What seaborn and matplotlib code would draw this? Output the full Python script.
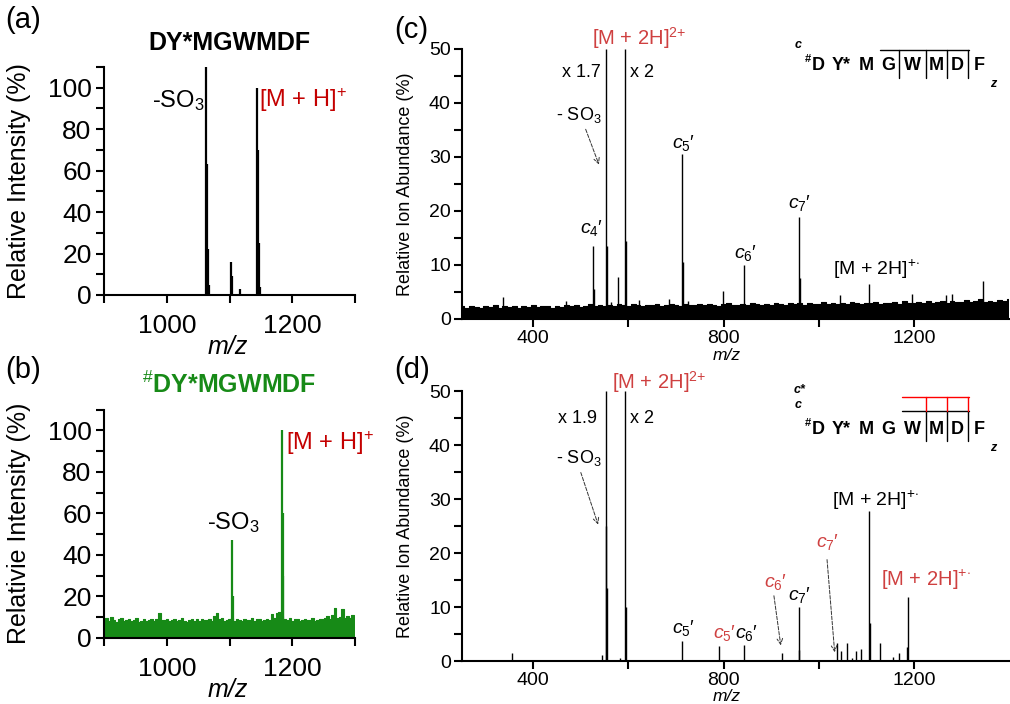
import numpy as np
import pandas as pd
import matplotlib.pyplot as plt
import seaborn as sns
from matplotlib.ticker import FixedLocator, MultipleLocator

# ---------------- data ----------------
# (a) DY*MGWMDF
a_mz = [1062.5, 1064, 1065, 1066.5, 1103, 1104.5, 1116, 1144, 1145.5, 1146.5, 1148]
a_int = [110, 63, 22, 5, 16, 9, 3, 100, 70, 25, 4]

# (b) #DY*MGWMDF
b_mz = [1104, 1105, 1184, 1185, 1186]
b_int = [47, 20, 100, 60, 30]
b_noise_mz = np.arange(900, 1301, 4)
b_noise = [8.4, 9.6, 8.1, 10.2, 8.8, 7.6, 8.9, 9.4, 7.9, 8.6,
           9.1, 8.0, 8.7, 9.5, 7.8, 8.3, 9.0, 8.2, 8.8, 9.3,
           8.1, 9.0, 12.1, 8.6, 8.4, 9.2, 7.9, 8.5, 9.1, 8.0,
           8.7, 9.4, 8.1, 7.7, 8.8, 9.2, 8.3, 8.9, 8.0, 9.1,
           8.4, 8.6, 9.3, 8.0, 10.4, 11.8, 8.9, 9.5, 8.2, 8.7,
           9.0, 9.6, 8.3, 9.1, 8.6, 8.0, 9.2, 8.5, 8.8, 9.4,
           8.1, 8.9, 9.3, 8.2, 8.7, 9.0, 8.4, 11.6, 9.8, 11.9,
           12.5, 10.3, 9.1, 8.6, 9.4, 8.2, 8.9, 9.3, 8.0, 8.7,
           9.2, 8.4, 8.8, 9.5, 8.1, 8.6, 9.3, 9.0, 9.7, 10.4,
           9.2, 10.8, 14.3, 9.6, 10.1, 13.9, 9.4, 10.6, 9.8, 11.0,
           10.5]

# (c) ECD of #DY*MGWMDF
c_mz = [336, 469, 525, 527, 553, 554, 563, 578, 593, 594, 622, 685, 712, 714,
        725, 799, 842, 958, 960, 1045, 1105, 1196, 1267, 1281, 1345]
c_int = [4.1, 3.3, 13.5, 5.5, 50, 13.5, 3.2, 7.8, 50, 14.5, 3.5, 3.7, 30.5, 10.5,
         3.3, 5.2, 9.9, 18.9, 7.5, 4.4, 6.4, 4.6, 4.4, 4.6, 7.1]
c_noise_mz = np.arange(250, 1401, 10)
c_noise = [2.3, 2.1, 2.4, 2.2, 2.0, 2.3, 2.2, 2.5, 2.1, 2.3,
           2.2, 2.4, 2.1, 2.3, 2.2, 2.5, 2.2, 2.4, 2.3, 2.1,
           2.4, 2.2, 2.6, 2.3, 2.5, 2.2, 2.4, 2.7, 2.3, 2.5,
           2.4, 2.6, 2.3, 2.8, 2.5, 2.4, 2.7, 2.5, 2.3, 2.6,
           2.5, 2.7, 2.4, 2.6, 2.8, 2.5, 2.4, 2.7, 2.6, 2.5,
           2.7, 2.5, 2.8, 2.6, 2.4, 2.7, 2.9, 2.6, 2.5, 2.8,
           2.6, 2.9, 2.7, 2.5, 2.8, 2.6, 3.0, 2.7, 2.6, 2.9,
           2.7, 2.9, 2.6, 3.0, 2.8, 2.7, 3.1, 2.8, 2.9, 2.7,
           3.0, 2.8, 3.2, 2.9, 2.7, 3.0, 2.9, 3.2, 2.8, 3.0,
           2.9, 3.1, 2.8, 3.3, 3.0, 2.9, 3.2, 3.0, 3.4, 2.9,
           3.1, 3.3, 3.0, 3.4, 3.1, 3.2, 3.5, 3.1, 3.3, 3.6,
           3.2, 3.4, 3.1, 3.5, 3.3, 3.6]

# (d) ECD with red-labelled ions
d_mz = [356, 544, 552, 553, 554, 582, 593, 594, 712, 791, 842, 922, 958, 959,
        1038, 1046, 1060, 1071, 1078, 1088, 1106, 1107, 1129, 1157, 1168, 1185, 1187]
d_int = [1.4, 1.1, 50, 25, 13.5, 0.5, 50, 10, 3.8, 2.8, 3.0, 1.5, 10.1, 2.0,
         3.4, 1.9, 3.3, 0.5, 1.9, 2.3, 27.7, 7.0, 3.3, 0.7, 1.5, 2.6, 11.8]

GREEN = '#178a17'
DARKRED = '#c40000'
SOFTRED = '#cf4040'

sns.set_style("ticks")
plt.rcParams['font.family'] = ['Liberation Sans', 'DejaVu Sans']
plt.rcParams['mathtext.fontset'] = 'custom'
plt.rcParams['mathtext.rm'] = 'Liberation Sans'
plt.rcParams['mathtext.it'] = 'Liberation Sans:italic'
plt.rcParams['mathtext.bf'] = 'Liberation Sans:bold'
plt.rcParams['axes.linewidth'] = 1.5
for key in ['text.color', 'axes.labelcolor', 'xtick.color', 'ytick.color', 'axes.edgecolor']:
    plt.rcParams[key] = 'black'

fig = plt.figure(figsize=(10.1, 7.04), dpi=100)
ax_a = fig.add_axes([0.103, 0.581, 0.2485, 0.324])
ax_b = fig.add_axes([0.103, 0.094, 0.2485, 0.324])
ax_c = fig.add_axes([0.4574, 0.547, 0.5416, 0.3835])
ax_d = fig.add_axes([0.4574, 0.061, 0.5416, 0.3835])

PLUS = '$^{+}$'
TWOPLUS = '$^{2{+}}$'
RADPLUS = '$^{+{\\cdot}}$'


def cion(n):
    return '$\\mathit{c}_{%d}$\u2032' % n


def style_left(ax, ylabel):
    ax.set_xlim(900, 1300)
    ax.set_ylim(0, 110)
    ax.xaxis.set_major_locator(FixedLocator([1000, 1200]))
    ax.xaxis.set_minor_locator(FixedLocator([900, 1100, 1300]))
    ax.yaxis.set_major_locator(FixedLocator([0, 20, 40, 60, 80, 100]))
    ax.yaxis.set_minor_locator(FixedLocator([10, 30, 50, 70, 90, 110]))
    ax.tick_params(which='both', direction='out', length=6, width=1.5)
    ax.tick_params(axis='x', which='major', labelsize=19, pad=8)
    ax.tick_params(axis='y', which='major', labelsize=19, pad=3)
    ax.set_ylabel(ylabel, fontsize=18)
    ax.yaxis.set_label_coords(-0.29, 0.5)
    ax.set_xlabel('m/z', fontsize=18, style='italic')
    ax.xaxis.set_label_coords(0.494, -0.175)
    sns.despine(ax=ax)


def style_right(ax, label_y):
    ax.set_xlim(250, 1400)
    ax.set_ylim(0, 50)
    ax.xaxis.set_major_locator(FixedLocator([400, 800, 1200]))
    ax.xaxis.set_minor_locator(FixedLocator([600, 1000]))
    ax.yaxis.set_major_locator(MultipleLocator(10))
    ax.yaxis.set_minor_locator(MultipleLocator(5))
    ax.tick_params(which='both', direction='out', length=6, width=1.5)
    ax.tick_params(axis='both', which='major', labelsize=14, pad=2)
    ax.set_ylabel('Relative Ion Abundance (%)', fontsize=13)
    ax.yaxis.set_label_coords(-0.088, 0.5)
    ax.set_xlabel('m/z', fontsize=12.5, style='italic')
    ax.xaxis.set_label_coords(0.484, label_y)
    sns.despine(ax=ax)


# ---------------- (a) ----------------
ax_a.vlines(a_mz, 0, a_int, color='black', lw=1.6)
style_left(ax_a, 'Relative Intensity (%)')
ax_a.text(976, 94, '-SO$_3$', fontsize=17, ha='left', va='center')
ax_a.text(1147, 94, '[M + H]' + PLUS, fontsize=17, ha='left', va='center', color=DARKRED, clip_on=False)
ax_a.set_title('DY*MGWMDF', fontsize=18, fontweight='bold', pad=12)

# ---------------- (b) ----------------
ax_b.fill_between(b_noise_mz, 0, b_noise, step='mid', color=GREEN, lw=0)
sns.lineplot(x=b_noise_mz, y=b_noise, ax=ax_b, color=GREEN, lw=0.8, drawstyle='steps-mid')
ax_b.vlines(b_mz, 0, b_int, color=GREEN, lw=1.6)
style_left(ax_b, 'Relativie Intensity (%)')
ax_b.text(1064, 55.5, '-SO$_3$', fontsize=17, ha='left', va='center')
ax_b.text(1190, 94, '[M + H]' + PLUS, fontsize=17, ha='left', va='center', color=DARKRED, clip_on=False)
ax_b.set_title('$^{\\#}$DY*MGWMDF', fontsize=18, fontweight='bold', color=GREEN, pad=12)

# ---------------- (c) ----------------
ax_c.vlines(c_mz, 0, c_int, color='black', lw=1.0)
ax_c.fill_between(c_noise_mz, 0, c_noise, step='mid', color='black', lw=0)
sns.lineplot(x=c_noise_mz, y=c_noise, ax=ax_c, color='black', lw=0.8, drawstyle='steps-mid')
style_right(ax_c, -0.108)
ax_c.text(622, 52, '[M + 2H]' + TWOPLUS, fontsize=14.5, color=SOFTRED, ha='center', va='center', clip_on=False)
ax_c.text(542, 45.6, 'x 1.7', fontsize=13, ha='right', va='center')
ax_c.text(603, 45.6, 'x 2', fontsize=13, ha='left', va='center')
ax_c.text(447, 37.8, '- SO$_3$', fontsize=13, ha='left', va='center')
ax_c.annotate('', xy=(540, 28.1), xytext=(508, 35.6),
              arrowprops=dict(arrowstyle='->', ls='--', lw=0.7, color='#333333'))
ax_c.text(523, 16.8, cion(4), fontsize=14, ha='center', va='center')
ax_c.text(715, 32.6, cion(5), fontsize=14, ha='center', va='center')
ax_c.text(846, 12.2, cion(6), fontsize=14, ha='center', va='center')
ax_c.text(960, 21.4, cion(7), fontsize=14, ha='center', va='center')
ax_c.text(1030, 9.1, '[M + 2H]' + RADPLUS, fontsize=14, ha='left', va='center')

# ---------------- (d) ----------------
ax_d.vlines(d_mz, 0, d_int, color='black', lw=1.0)
style_right(ax_d, -0.104)
ax_d.text(664, 51.7, '[M + 2H]' + TWOPLUS, fontsize=14.5, color=SOFTRED, ha='center', va='center', clip_on=False)
ax_d.text(534, 45, 'x 1.9', fontsize=13, ha='right', va='center')
ax_d.text(603, 45, 'x 2', fontsize=13, ha='left', va='center')
ax_d.text(447, 37.6, '- SO$_3$', fontsize=13, ha='left', va='center')
ax_d.annotate('', xy=(538, 24.8), xytext=(498, 35.4),
              arrowprops=dict(arrowstyle='->', ls='--', lw=0.7, color='#333333'))
ax_d.text(1028, 29.8, '[M + 2H]' + RADPLUS, fontsize=14, ha='left', va='center')
ax_d.text(1019, 22.1, cion(7), fontsize=14, ha='center', va='center', color=SOFTRED)
ax_d.annotate('', xy=(1034, 1.1), xytext=(1017, 19.3),
              arrowprops=dict(arrowstyle='->', ls='--', lw=0.7, color='#333333'))
ax_d.text(1131, 15, '[M + 2H]' + RADPLUS, fontsize=14.5, ha='left', va='center', color=SOFTRED)
ax_d.text(909, 14.7, cion(6), fontsize=14, ha='center', va='center', color=SOFTRED)
ax_d.annotate('', xy=(921, 2.4), xytext=(905, 12.6),
              arrowprops=dict(arrowstyle='->', ls='--', lw=0.7, color='#333333'))
ax_d.text(960, 12.2, cion(7), fontsize=14, ha='center', va='center')
ax_d.text(715, 6.1, cion(5), fontsize=14, ha='center', va='center')
ax_d.text(802, 5.2, cion(5), fontsize=14, ha='center', va='center', color=SOFTRED)
ax_d.text(848, 5.2, cion(6), fontsize=14, ha='center', va='center')

# ---------------- sequence maps ----------------
seq = ['D', 'Y*', 'M', 'G', 'W', 'M', 'D', 'F']
seq_x = [0.651, 0.693, 0.739, 0.779, 0.823, 0.867, 0.905, 0.945]

for ax, yl in [(ax_c, 0.937), (ax_d, 0.856)]:
    tr = ax.transAxes
    for s, x in zip(seq, seq_x):
        ax.text(x, yl, s, transform=tr, fontsize=13, fontweight='bold', ha='center', va='center')
    ax.text(0.633, yl + 0.025, '#', transform=tr, fontsize=8, fontweight='bold', ha='center', va='center')
    ax.text(0.972, yl - 0.067, 'z', transform=tr, fontsize=9, fontweight='bold', style='italic',
            ha='center', va='center')

# (c): cleavages after G, W, M, D
tr = ax_c.transAxes
ax_c.text(0.614, 1.015, 'c', transform=tr, fontsize=9, fontweight='bold', style='italic',
          ha='center', va='center')
ax_c.plot([0.764, 0.927], [0.996, 0.996], transform=tr, color='black', lw=1.0, clip_on=False)
for x in [0.799, 0.848, 0.887, 0.925]:
    ax_c.plot([x, x], [0.996, 0.893], transform=tr, color='black', lw=1.0, clip_on=False)

# (d): c and c* cleavages after W, M, D
tr = ax_d.transAxes
ax_d.text(0.618, 1.004, 'c*', transform=tr, fontsize=9, fontweight='bold', style='italic',
          ha='center', va='center', clip_on=False)
ax_d.text(0.614, 0.948, 'c', transform=tr, fontsize=9, fontweight='bold', style='italic',
          ha='center', va='center')
ax_d.plot([0.804, 0.927], [0.927, 0.927], transform=tr, color='black', lw=1.0)
ax_d.plot([0.804, 0.927], [0.979, 0.979], transform=tr, color='red', lw=1.0)
for x in [0.848, 0.887, 0.925]:
    ax_d.plot([x, x], [0.927, 0.816], transform=tr, color='black', lw=1.0)
    ax_d.plot([x, x], [0.979, 0.927], transform=tr, color='red', lw=1.0)

# ---------------- panel letters ----------------
fig.text(0.005, 0.972, '(a)', fontsize=21, ha='left', va='center')
fig.text(0.005, 0.474, '(b)', fontsize=21, ha='left', va='center')
fig.text(0.390, 0.958, '(c)', fontsize=21, ha='left', va='center')
fig.text(0.390, 0.474, '(d)', fontsize=21, ha='left', va='center')

plt.savefig('out.png', dpi=100)
plt.close()
